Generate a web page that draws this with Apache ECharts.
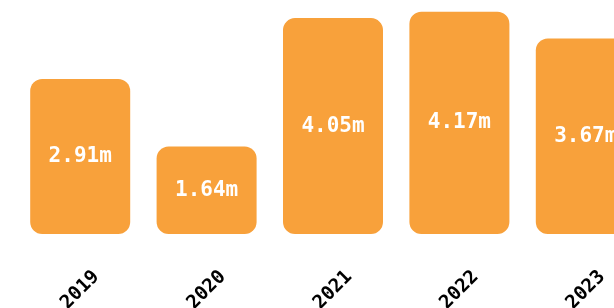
<!DOCTYPE html>
<html>
<head>
<meta charset="utf-8">
<script src="https://cdn.jsdelivr.net/npm/echarts@6/dist/echarts.min.js"></script>
<style>
  html, body { margin: 0; padding: 0; background: #fff; }
  #chart-container { width: 614px; height: 308px; }
</style>
</head>
<body>
<div id="chart-container"></div>
<script>
var years = ['2019', '2020', '2021', '2022', '2023'];
var values = [2.91, 1.64, 4.05, 4.17, 3.67];

var dom = document.getElementById('chart-container');
var myChart = echarts.init(dom, null, { renderer: 'canvas' });

var option = {
  animation: false,
  grid: {
    left: 17, top: 0, width: 632, height: 234,
    containLabel: false,
    outerBoundsMode: 'none'
  },
  xAxis: {
    type: 'category',
    data: years,
    axisLine: { show: false },
    axisTick: { show: false },
    axisLabel: {
      rotate: 45,
      align: 'center',
      margin: 56,
      color: '#000',
      fontWeight: 'bold',
      fontSize: 19,
      fontFamily: 'DejaVu Sans Mono'
    }
  },
  yAxis: {
    type: 'value',
    min: 0,
    max: 4.39,
    show: false,
    splitLine: { show: false }
  },
  series: [
    {
      type: 'bar',
      data: values,
      barWidth: 100,
      itemStyle: { color: '#f8a13b', borderRadius: 12 },
      label: {
        show: true,
        position: 'inside',
        color: '#fff',
        fontWeight: 'bold',
        fontSize: 21,
        fontFamily: 'DejaVu Sans Mono',
        formatter: function (p) { return p.value.toFixed(2) + 'm'; }
      }
    }
  ]
};

myChart.setOption(option);
window.addEventListener('resize', myChart.resize);
</script>
</body>
</html>
